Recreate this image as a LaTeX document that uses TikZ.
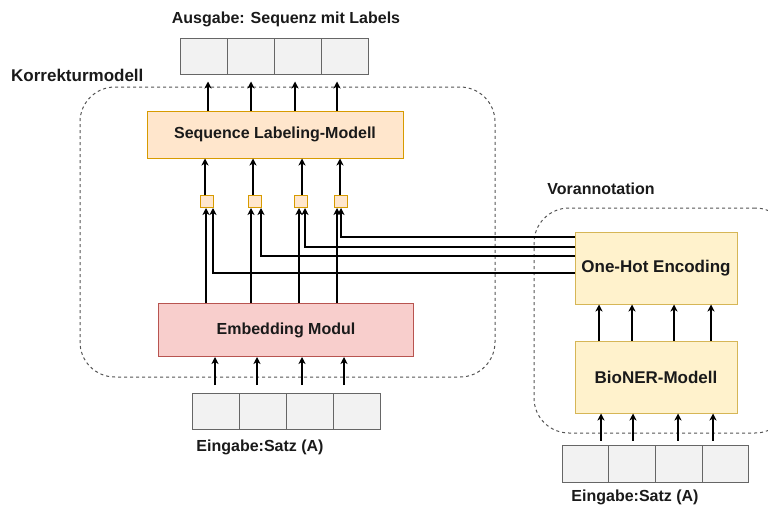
\documentclass[tikz,border=0pt]{standalone}
\usepackage{fontspec}
\setmainfont{Liberation Sans}
\usetikzlibrary{arrows.meta}
\definecolor{cellfill}{HTML}{F2F2F2}
\definecolor{cellline}{HTML}{666666}
\definecolor{orfill}{HTML}{FFE6CC}
\definecolor{orline}{HTML}{D79B00}
\definecolor{rdfill}{HTML}{F8CECC}
\definecolor{rdline}{HTML}{B85450}
\definecolor{yefill}{HTML}{FFF2CC}
\definecolor{yeline}{HTML}{D6B656}
\definecolor{txt}{HTML}{1A1A1A}
\definecolor{dashc}{HTML}{555555}
\begin{document}
\begin{tikzpicture}[x=1pt,y=-1pt,
  every node/.style={font=\fontsize{16}{18}\selectfont\bfseries, text=txt, inner sep=0pt},
  big/.style={font=\fontsize{17}{19}\selectfont\bfseries},
  cell/.style={draw=cellline, fill=cellfill, line width=1pt, minimum width=47pt, minimum height=36pt},
  model/.style={line width=1pt, minimum width=#1},
  arr/.style={draw=black, line width=1.1pt, -{Stealth[length=7pt,width=7pt,inset=2pt]}},
  dashbox/.style={draw=dashc, line width=1pt, dash pattern=on 3pt off 3pt, rounded corners=35pt},
  sq/.style={draw=orline, fill=orfill, line width=1pt, minimum width=13pt, minimum height=12pt}
]
\clip (0,0) rectangle (768,506);
% containers
\node[dashbox, minimum width=415pt, minimum height=290pt] (korr) at (287.5,232) {};
\node[dashbox, minimum width=256pt, minimum height=225pt] (vor) at (662,320.5) {};
\node[anchor=west, big] (korrlab) at (11,75) {Korrekturmodell};
\node (vorlab) at (601,189) {Vorannotation};
% output
\node (outlab) at (286,19) {Ausgabe: Sequenz mit Labels};
\node[cell] (o1) at (203.6,56) {};
\node[cell] (o2) at (250.9,56) {};
\node[cell] (o3) at (298.1,56) {};
\node[cell] (o4) at (345.4,56) {};
% models
\node[model=256pt, minimum height=47pt, draw=orline, fill=orfill] (slm) at (275,134.5) {Sequence Labeling-Modell};
\node[model=255pt, minimum height=53pt, draw=rdline, fill=rdfill] (emb) at (286,330) {Embedding Modul};
\node[model=162pt, minimum height=72pt, draw=yeline, fill=yefill, big] (ohe) at (656,268) {One-Hot Encoding};
\node[model=162pt, minimum height=72pt, draw=yeline, fill=yefill, big] (bio) at (656,377) {BioNER-Modell};
% small squares
\node[sq] (s1) at (207,201.5) {};
\node[sq] (s2) at (255,201.5) {};
\node[sq] (s3) at (301,201.5) {};
\node[sq] (s4) at (341,201.5) {};
% left input
\node[cell] (i1) at (215.5,411) {};
\node[cell] (i2) at (262.5,411) {};
\node[cell] (i3) at (309.5,411) {};
\node[cell] (i4) at (356.5,411) {};
\node (inlab) at (260,447) {Eingabe:Satz (A)};
% right input
\node[cell, minimum width=46.75pt, minimum height=37pt] (r1) at (585.4,463.5) {};
\node[cell, minimum width=46.75pt, minimum height=37pt] (r2) at (632.1,463.5) {};
\node[cell, minimum width=46.75pt, minimum height=37pt] (r3) at (678.9,463.5) {};
\node[cell, minimum width=46.75pt, minimum height=37pt] (r4) at (725.6,463.5) {};
\node (rinlab) at (635,497) {Eingabe:Satz (A)};
% output arrows
\foreach \dx in {-67,-24,20,62} {
  \draw[arr] ([xshift=\dx pt]slm.north) -- ([xshift=\dx pt, yshift=29pt]slm.north);
}
% squares -> SLM
\draw[arr] ([xshift=-2pt]s1.north) -- ([xshift=-2pt]slm.south -| s1.north);
\draw[arr] ([xshift=-2pt]s2.north) -- ([xshift=-2pt]slm.south -| s2.north);
\draw[arr] ([xshift=1pt]s3.north) -- ([xshift=1pt]slm.south -| s3.north);
\draw[arr] ([xshift=-1pt]s4.north) -- ([xshift=-1pt]slm.south -| s4.north);
% embedding -> squares
\draw[arr] ([xshift=-1pt]emb.north -| s1.south) -- ([xshift=-1pt]s1.south);
\draw[arr] ([xshift=-4pt]emb.north -| s2.south) -- ([xshift=-4pt]s2.south);
\draw[arr] ([xshift=-2pt]emb.north -| s3.south) -- ([xshift=-2pt]s3.south);
\draw[arr] ([xshift=-4pt]emb.north -| s4.south) -- ([xshift=-4pt]s4.south);
% one-hot -> squares
\draw[arr] ([yshift=31pt]ohe.west) -| ([xshift=0pt]s4.south);
\draw[arr] ([yshift=21pt]ohe.west) -| ([xshift=4pt]s3.south);
\draw[arr] ([yshift=12pt]ohe.west) -| ([xshift=6pt]s2.south);
\draw[arr] ([yshift=-5pt]ohe.west) -| ([xshift=6pt]s1.south);
% bioner -> ohe
\foreach \dx in {-57,-24,18,55} {
  \draw[arr] ([xshift=\dx pt]bio.north) -- ([xshift=\dx pt]ohe.south);
}
% right input -> bioner
\foreach \dx in {-55,-23,22,57} {
  \draw[arr] ([xshift=\dx pt, yshift=-27pt]bio.south) -- ([xshift=\dx pt]bio.south);
}
% left input -> embedding
\foreach \dx in {-71,-29,16,58} {
  \draw[arr] ([xshift=\dx pt, yshift=-28pt]emb.south) -- ([xshift=\dx pt]emb.south);
}
\end{tikzpicture}
\end{document}
